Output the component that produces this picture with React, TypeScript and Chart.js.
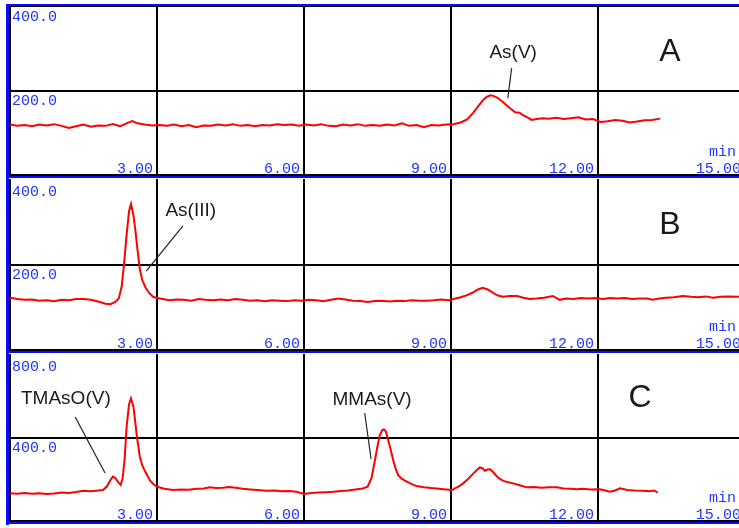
import React, { useEffect, useRef } from 'react';
import { Chart, registerables } from 'chart.js';
Chart.register(...registerables);

// ---------- data ----------
const xTickValues = [3, 6, 9, 12, 15];
const xTickLabels = ['3.00', '6.00', '9.00', '12.00', '15.00'];
const panelNames = ['A', 'B', 'C'];
const yMaxValues = [400, 400, 800];
const yTopLabels = ['400.0', '400.0', '800.0'];
const yMidLabels = ['200.0', '200.0', '400.0'];
const xUnit = 'min';

const timesA = [0, 0.15, 0.3, 0.45, 0.6, 0.75, 0.9, 1.05, 1.2, 1.35, 1.5, 1.65, 1.8, 1.95, 2.1, 2.25, 2.4, 2.5, 2.6, 2.75, 2.9, 3.05, 3.2, 3.35, 3.5, 3.65, 3.8, 3.95, 4.1, 4.25, 4.4, 4.55, 4.7, 4.85, 5.0, 5.15, 5.3, 5.45, 5.6, 5.75, 5.9, 6.05, 6.2, 6.35, 6.5, 6.65, 6.8, 6.95, 7.1, 7.25, 7.4, 7.55, 7.7, 7.85, 8.0, 8.15, 8.3, 8.45, 8.6, 8.75, 8.9, 9.05, 9.2, 9.33, 9.45, 9.55, 9.65, 9.73, 9.81, 9.88, 9.95, 10.06, 10.2, 10.31, 10.4, 10.47, 10.56, 10.65, 10.75, 10.88, 11.0, 11.15, 11.3, 11.45, 11.6, 11.75, 11.9, 12.05, 12.2, 12.35, 12.5, 12.65, 12.8, 12.95, 13.1, 13.27];
const signalA = [121, 118, 120, 117, 121, 119, 122, 118, 113, 117, 121, 116, 119, 118, 122, 117, 125, 129, 124, 121, 119, 120, 118, 121, 117, 120, 115, 119, 118, 121, 119, 122, 118, 120, 117, 120, 119, 122, 120, 121, 118, 121, 119, 122, 118, 117, 121, 119, 122, 118, 120, 118, 121, 119, 124, 118, 120, 115, 120, 119, 121, 122, 126, 133, 148, 163, 178, 186, 190, 188, 184, 174, 160, 150, 149, 143, 138, 132, 134, 136, 135, 137, 134, 136, 138, 133, 134, 127, 129, 132, 130, 126, 128, 131, 132, 135];

const timesB = [0, 0.15, 0.3, 0.45, 0.6, 0.75, 0.9, 1.05, 1.2, 1.35, 1.5, 1.65, 1.8, 1.95, 2.05, 2.15, 2.22, 2.28, 2.33, 2.38, 2.43, 2.47, 2.52, 2.56, 2.6, 2.65, 2.7, 2.76, 2.84, 2.92, 3.0, 3.12, 3.25, 3.4, 3.55, 3.7, 3.85, 4.0, 4.15, 4.3, 4.45, 4.6, 4.75, 4.9, 5.05, 5.2, 5.35, 5.5, 5.65, 5.8, 5.95, 6.1, 6.25, 6.4, 6.55, 6.7, 6.85, 7.0, 7.15, 7.3, 7.45, 7.6, 7.75, 7.9, 8.05, 8.2, 8.35, 8.5, 8.65, 8.8, 8.95, 9.05, 9.2, 9.33, 9.45, 9.55, 9.65, 9.75, 9.86, 9.96, 10.06, 10.2, 10.35, 10.48, 10.61, 10.75, 10.9, 11.08, 11.22, 11.35, 11.5, 11.65, 11.8, 11.95, 12.1, 12.25, 12.4, 12.55, 12.7, 12.85, 13.0, 13.12, 13.25, 13.4, 13.55, 13.73, 13.9, 14.05, 14.2, 14.35, 14.5, 14.65, 14.88];
const signalB = [124, 121, 119, 120, 117, 118, 116, 119, 118, 121, 121, 119, 115, 110, 109, 114, 122, 150, 205, 270, 325, 342, 316, 280, 238, 190, 165, 149, 135, 126, 123, 121, 118, 120, 119, 117, 121, 119, 118, 120, 118, 121, 119, 117, 118, 116, 118, 117, 116, 118, 117, 119, 118, 116, 119, 122, 120, 117, 116, 114, 116, 117, 115, 117, 116, 118, 117, 117, 118, 120, 118, 121, 125, 130, 136, 143, 147, 143, 135, 129, 126, 128, 128, 124, 121, 122, 124, 128, 119, 122, 121, 123, 122, 123, 121, 123, 122, 123, 121, 122, 122, 119, 122, 124, 125, 128, 126, 125, 127, 124, 126, 127, 126];

const timesC = [0, 0.15, 0.3, 0.45, 0.6, 0.75, 0.9, 1.05, 1.2, 1.35, 1.5, 1.65, 1.8, 1.9, 1.98, 2.05, 2.1, 2.15, 2.2, 2.26, 2.3, 2.34, 2.38, 2.43, 2.47, 2.52, 2.56, 2.59, 2.65, 2.7, 2.76, 2.86, 2.93, 3.0, 3.15, 3.33, 3.5, 3.65, 3.8, 3.95, 4.08, 4.2, 4.35, 4.48, 4.6, 4.75, 4.9, 5.05, 5.24, 5.4, 5.55, 5.7, 5.85, 6.0, 6.15, 6.3, 6.45, 6.6, 6.75, 6.9, 7.05, 7.2, 7.3, 7.38, 7.45, 7.5, 7.55, 7.6, 7.63, 7.67, 7.71, 7.77, 7.82, 7.87, 7.92, 8.0, 8.1, 8.2, 8.3, 8.45, 8.6, 8.71, 8.85, 9.02, 9.15, 9.25, 9.35, 9.45, 9.52, 9.59, 9.65, 9.69, 9.75, 9.8, 9.86, 9.93, 10.0, 10.06, 10.15, 10.27, 10.4, 10.55, 10.7, 10.85, 11.0, 11.16, 11.3, 11.45, 11.57, 11.7, 11.85, 12.04, 12.15, 12.24, 12.35, 12.45, 12.6, 12.75, 12.92, 13.05, 13.15, 13.22];
const signalC = [137, 135, 138, 134, 137, 133, 136, 140, 138, 143, 149, 146, 150, 152, 170, 200, 216, 210, 192, 176, 210, 300, 454, 560, 589, 549, 470, 406, 311, 270, 240, 197, 180, 168, 158, 152, 155, 154, 158, 160, 165, 162, 163, 167, 163, 158, 155, 152, 149, 150, 146, 148, 144, 133, 138, 140, 142, 144, 148, 150, 155, 160, 168, 210, 295, 360, 414, 438, 441, 432, 398, 345, 295, 255, 224, 205, 192, 180, 171, 166, 162, 160, 156, 152, 168, 184, 205, 229, 245, 260, 255, 244, 250, 251, 238, 219, 205, 197, 190, 184, 175, 165, 167, 163, 165, 165, 160, 158, 156, 158, 155, 156, 150, 144, 150, 160, 152, 150, 149, 146, 150, 140];

// annotation texts
const peakLabelsA = ['As(V)'];
const peakLabelsB = ['As(III)'];
const peakLabelsC = ['TMAsO(V)', 'MMAs(V)'];

// ---------- layout (positions in data coordinates) ----------
const panels = [
  {
    times: timesA, signal: signalA, top: 0, height: 179, padTop: 6, padBottom: 3, drawTop: true,
    letterPos: [13.47, 292],
    notes: [{ text: peakLabelsA[0], at: [10.27, 289], from: [10.24, 254], to: [10.16, 183] }],
  },
  {
    times: timesB, signal: signalB, top: 179, height: 175, padTop: 0, padBottom: 3, drawTop: false,
    letterPos: [13.47, 293],
    notes: [{ text: peakLabelsB[0], at: [3.69, 326], from: [3.53, 291], to: [2.78, 186] }],
  },
  {
    times: timesC, signal: signalC, top: 354, height: 174, padTop: 0, padBottom: 6, drawTop: false,
    letterPos: [12.86, 590],
    notes: [
      { text: peakLabelsC[0], at: [1.14, 586], from: [1.33, 500], to: [1.94, 233] },
      { text: peakLabelsC[1], at: [7.39, 581], from: [7.24, 519], to: [7.37, 300] },
    ],
  },
];

const X_MAX = 14.88;
const BLUE = '#0a0aff';
const LABEL_BLUE = '#1f35ff';

function makePlugin(i: number) {
  const p = panels[i];
  return {
    id: 'panelDeco' + i,
    beforeDatasetsDraw(chart: any) {
      const { ctx, chartArea, scales } = chart;
      const { left, right, top, bottom } = chartArea;
      const x = scales.x, y = scales.y;
      const W = chart.width;
      ctx.save();
      ctx.fillStyle = '#fff';
      ctx.fillRect(0, 0, W, chart.height);
      // grid
      ctx.fillStyle = '#000';
      for (const v of xTickValues) {
        const px = Math.round(x.getPixelForValue(v));
        if (px < right) ctx.fillRect(px - 1, top, 2, bottom - top);
      }
      const my = Math.round(y.getPixelForValue(yMaxValues[i] / 2));
      ctx.fillRect(left, my - 1, right - left, 2);
      // frame
      ctx.fillStyle = '#000';
      ctx.fillRect(left - 1, top, 2, bottom - top);
      ctx.fillRect(left - 1, bottom - 2, W, 2);
      if (p.drawTop) ctx.fillRect(left - 1, top, W, 1);
      ctx.fillStyle = BLUE;
      ctx.fillRect(left - 4, p.drawTop ? top - 2 : 0, 3, bottom + 3 - (p.drawTop ? top - 2 : 0));
      ctx.fillRect(left - 4, bottom, W, 2);
      if (p.drawTop) ctx.fillRect(left - 4, top - 2, W, 2);
      // y labels
      ctx.fillStyle = LABEL_BLUE;
      ctx.font = '15px "Liberation Mono", monospace';
      ctx.textBaseline = 'top';
      ctx.textAlign = 'left';
      ctx.fillText(yTopLabels[i], left + 2, top + (p.drawTop ? 4 : 6));
      ctx.fillText(yMidLabels[i], left + 2, my + 3);
      // x labels
      ctx.textBaseline = 'alphabetic';
      ctx.textAlign = 'right';
      xTickValues.forEach((v, k) => {
        const px = x.getPixelForValue(v);
        ctx.fillText(xTickLabels[k], px - 4, bottom - 3);
      });
      ctx.textAlign = 'left';
      ctx.fillText(xUnit, x.getPixelForValue(15) - 36, bottom - 20);
      ctx.restore();
    },
    afterDatasetsDraw(chart: any) {
      const { ctx, scales } = chart;
      const x = scales.x, y = scales.y;
      ctx.save();
      ctx.fillStyle = '#1a1a1a';
      ctx.textAlign = 'center';
      ctx.textBaseline = 'middle';
      ctx.font = '32px "Liberation Sans", Arial, sans-serif';
      ctx.fillText(panelNames[i], x.getPixelForValue(p.letterPos[0]), y.getPixelForValue(p.letterPos[1]));
      ctx.font = '19px "Liberation Sans", Arial, sans-serif';
      ctx.strokeStyle = '#222';
      ctx.lineWidth = 1.2;
      for (const n of p.notes) {
        ctx.fillText(n.text, x.getPixelForValue(n.at[0]), y.getPixelForValue(n.at[1]));
        ctx.beginPath();
        ctx.moveTo(x.getPixelForValue(n.from[0]), y.getPixelForValue(n.from[1]));
        ctx.lineTo(x.getPixelForValue(n.to[0]), y.getPixelForValue(n.to[1]));
        ctx.stroke();
      }
      ctx.restore();
    },
  };
}

function Panel({ i }: { i: number }) {
  const ref = useRef<HTMLCanvasElement>(null);
  const p = panels[i];
  useEffect(() => {
    if (!ref.current) return;
    const data = p.times.map((t, k) => ({ x: t, y: p.signal[k] }));
    const chart = new Chart(ref.current, {
      type: 'line',
      data: {
        datasets: [{
          data,
          borderColor: '#ff0000',
          borderWidth: 2,
          pointRadius: 0,
          tension: 0,
          fill: false,
        }],
      },
      options: {
        animation: false,
        responsive: false,
        devicePixelRatio: 1,
        layout: { padding: { left: 10, right: 0, top: p.padTop, bottom: p.padBottom } },
        scales: {
          x: { type: 'linear', min: 0, max: X_MAX, display: false },
          y: { type: 'linear', min: 0, max: yMaxValues[i], display: false },
        },
        plugins: { legend: { display: false }, tooltip: { enabled: false } },
        events: [],
      },
      plugins: [makePlugin(i)],
    } as any);
    return () => chart.destroy();
  }, []);
  return (
    <div style={{ position: 'absolute', left: 0, top: p.top, width: 739, height: p.height }}>
      <canvas ref={ref} width={739} height={p.height} style={{ display: 'block' }} />
    </div>
  );
}

export default function App() {
  return (
    <div style={{ position: 'absolute', left: 0, top: 0, width: 739, height: 528, overflow: 'hidden', background: '#fff' }}>
      {panels.map((_, i) => <Panel key={i} i={i} />)}
    </div>
  );
}
